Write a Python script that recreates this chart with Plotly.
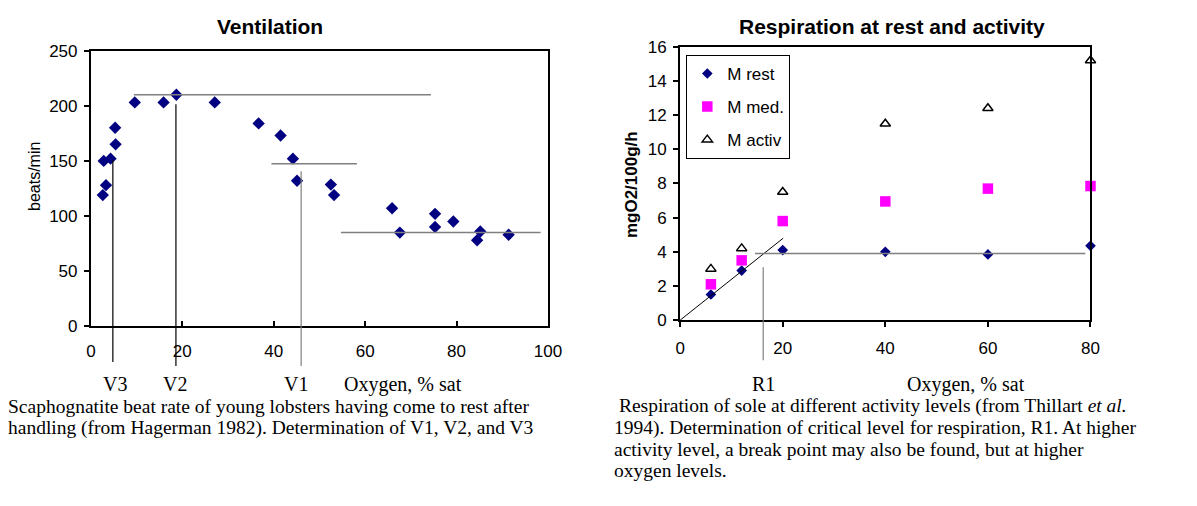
import plotly.graph_objects as go

# ---------------- data ----------------
# Ventilation (left chart): oxygen % sat vs scaphognathite beat rate
vent_o2 = [2.6, 2.8, 3.3, 4.3, 5.3, 5.4, 9.6, 15.9, 18.7, 27.1, 36.7, 41.5,
           44.2, 45.1, 52.5, 53.2, 65.9, 67.6, 75.3, 75.3, 79.3, 85.2, 84.5, 91.4]
vent_rate = [119, 150, 128, 152, 180, 165, 203, 203, 210, 203, 184, 173,
             152, 132, 128.5, 119, 107, 85, 102, 90, 95, 86, 78, 83]

# break-point guides (x in % sat, y in beats/min)
v_labels = ["V3", "V2", "V1"]
v_o2 = [4.8, 18.6, 46.0]
v_top = [150.8, 201.4, 140.7]
v_label_x = [5.25, 18.45, 44.9]
v_plateau_y = [210, 147.3, 85]
v_plateau_x0 = [9.4, 39.5, 54.7]
v_plateau_x1 = [74.4, 58.2, 98.4]

# Respiration (right chart)
resp_o2 = [6, 12, 20, 40, 60, 80]
m_rest = [1.5, 2.9, 4.1, 4.0, 3.85, 4.35]
m_med = [2.1, 3.5, 5.8, 6.95, 7.7, 7.85]
m_activ = [3.0, 4.2, 7.5, 11.5, 12.4, 15.2]

r1_o2 = 16.2
r1_top = 3.1
rest_level = 3.9
rest_level_x = [14.6, 79.0]
slope_x = [0, 20.1]
slope_y = [0, 4.8]

x_ticks_left = [0, 20, 40, 60, 80, 100]
y_ticks_left = [0, 50, 100, 150, 200, 250]
x_ticks_right = [0, 20, 40, 60, 80]
y_ticks_right = [0, 2, 4, 6, 8, 10, 12, 14, 16]

# ---------------- layout constants ----------------
W, H = 1197, 506
def px(xp):
    return xp / W
def py(yp):
    return 1 - yp / H

NAVY = "#000080"
MAGENTA = "#FF00FF"
GRAY = "#808080"
SANS = "Arial, Liberation Sans, sans-serif"
SERIF = "Times New Roman, Liberation Serif, serif"

fig = go.Figure()
fig.add_trace(go.Scatter(
    x=vent_o2, y=vent_rate, mode="markers", xaxis="x", yaxis="y",
    marker=dict(symbol="diamond", size=9.5, color=NAVY, line=dict(width=0)),
    showlegend=False, cliponaxis=False))
fig.add_trace(go.Scatter(
    x=resp_o2, y=m_rest, mode="markers", xaxis="x2", yaxis="y2", name="M rest",
    legendgroup="a",
    marker=dict(symbol="diamond", size=8.2, color=NAVY, line=dict(width=0)),
    cliponaxis=False))
fig.add_trace(go.Scatter(
    x=resp_o2, y=m_med, mode="markers", xaxis="x2", yaxis="y2", name="M med.",
    legendgroup="b",
    marker=dict(symbol="square", size=10.5, color=MAGENTA, line=dict(width=0)),
    cliponaxis=False))
fig.add_trace(go.Scatter(
    x=resp_o2, y=m_activ, mode="markers", xaxis="x2", yaxis="y2", name="M activ",
    legendgroup="c",
    marker=dict(symbol="triangle-up-open", size=9, color="black",
                line=dict(width=1.5, color="black")),
    cliponaxis=False))

shapes = []
# plateau lines of the ventilation chart
for y, x0, x1 in zip(v_plateau_y, v_plateau_x0, v_plateau_x1):
    shapes.append(dict(type="line", xref="x", yref="y", x0=x0, x1=x1, y0=y, y1=y,
                       line=dict(color=GRAY, width=1.5)))
# break-point verticals (inside the plot, then continued below the axis)
left_bottom = py(329.7)
v_ext = [py(366.7), py(371), py(371)]
v_col = ["black", "black", GRAY]
for xo, top, ext, col in zip(v_o2, v_top, v_ext, v_col):
    shapes.append(dict(type="line", xref="x", yref="y", x0=xo, x1=xo, y0=0, y1=top,
                       line=dict(color=col, width=1.2)))
    shapes.append(dict(type="line", xref="x", yref="paper", x0=xo, x1=xo,
                       y0=ext, y1=left_bottom, line=dict(color=col, width=1.2)))
# respiration chart guides
shapes.append(dict(type="line", xref="x2", yref="y2", x0=slope_x[0], x1=slope_x[1],
                   y0=slope_y[0], y1=slope_y[1], line=dict(color="black", width=1)))
shapes.append(dict(type="line", xref="x2", yref="y2", x0=rest_level_x[0],
                   x1=rest_level_x[1], y0=rest_level, y1=rest_level,
                   line=dict(color=GRAY, width=1.5)))
shapes.append(dict(type="line", xref="x2", yref="y2", x0=r1_o2, x1=r1_o2,
                   y0=0, y1=r1_top, line=dict(color=GRAY, width=1.2)))
shapes.append(dict(type="line", xref="x2", yref="paper", x0=r1_o2, x1=r1_o2,
                   y0=py(365), y1=py(323.3), line=dict(color=GRAY, width=1.2)))

ann = []
def note(text, x, y, size, family=SANS, xref="paper", xanchor="center", angle=0):
    ann.append(dict(text=text, xref=xref, yref="paper", x=x, y=y,
                    xanchor=xanchor, yanchor="middle", textangle=angle,
                    borderpad=0, borderwidth=0,
                    showarrow=False, font=dict(family=family, size=size, color="black")))

# chart titles
note("<b>Ventilation</b>", px(269), py(18), 21)
note("<b>Respiration at rest and activity</b>", px(901), py(18), 21)
# axis titles
note("beats/min", px(30), py(174), 16, angle=-90)
note("<b>mgO2/100g/h</b>", px(636), py(182), 17, angle=-90)
# labels under the axes
for lab, xo in zip(v_labels, v_label_x):
    note(lab, xo, py(390), 20, family=SERIF, xref="x")
note("Oxygen, % sat", 68.3, py(390), 20, family=SERIF, xref="x")
note("R1", r1_o2, py(390), 20, family=SERIF, xref="x2")
note("Oxygen, % sat", 55.8, py(390), 20, family=SERIF, xref="x2")

# captions
left_caption = [
    "Scaphognatite beat rate of young lobsters having come to rest after",
    "handling (from Hagerman 1982). Determination of V1, V2, and V3",
]
right_caption = [
    " Respiration of sole at different activity levels (from Thillart <i>et al.</i>",
    "1994). Determination of critical level for respiration, R1. At higher",
    "activity level, a break point may also be found, but at higher",
    "oxygen levels.",
]
line_y = [413, 435.2, 457.4, 479.6]
for t, yy in zip(left_caption, line_y):
    note(t, px(3), py(yy), 19.5, family=SERIF, xanchor="left")
for t, yy in zip(right_caption, line_y):
    note(t, px(619), py(yy), 19.5, family=SERIF, xanchor="left")

axis_common = dict(showline=True, mirror=True, linecolor="black", linewidth=2,
                   showgrid=False, zeroline=False,
                   tickfont=dict(family=SANS, size=17, color="black"),
                   tickcolor="black", ticklen=5, tickwidth=1.5)

fig.update_layout(
    width=W, height=H, margin=dict(l=0, r=0, t=0, b=0),
    paper_bgcolor="white", plot_bgcolor="white",
    xaxis=dict(domain=[px(87.3), px(551.7)], range=[0, 100], tickvals=x_ticks_left,
               ticks="inside", ticklabelstandoff=8, anchor="y", **axis_common),
    yaxis=dict(domain=[py(329.7), py(43.2)], range=[0, 250], tickvals=y_ticks_left,
               ticks="outside", ticklabelstandoff=3, anchor="x", **axis_common),
    xaxis2=dict(domain=[px(686), px(1103)], range=[0, 80], tickvals=x_ticks_right,
                ticks="outside", ticklabelstandoff=6, anchor="y2", **axis_common),
    yaxis2=dict(domain=[py(323.3), py(39.3)], range=[0, 16], tickvals=y_ticks_right,
                ticks="outside", ticklabelstandoff=3, anchor="x2", **axis_common),
    showlegend=True,
    legend=dict(x=px(692.3), y=py(47.7), xanchor="left", yanchor="top",
                bgcolor="white", bordercolor="black", borderwidth=1,
                font=dict(family=SANS, size=17, color="black"),
                tracegroupgap=8, itemwidth=30),
    shapes=shapes, annotations=ann,
)

fig.write_html(
    "out.html",
    config={"displayModeBar": False},
    post_script="document.body.style.margin='0';document.body.style.padding='0';"
                "document.documentElement.style.overflow='hidden';",
)
